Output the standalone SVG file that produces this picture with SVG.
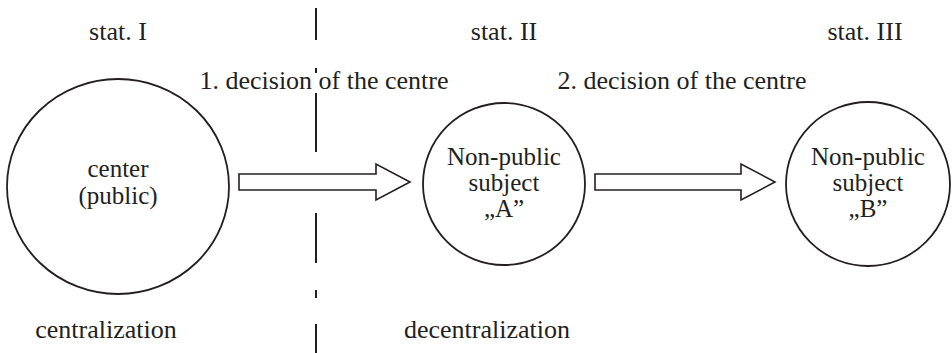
<svg xmlns="http://www.w3.org/2000/svg" width="952" height="353" viewBox="0 0 952 353">
  <style>
    .lbl { font-family: "Liberation Serif", "DejaVu Serif", serif; font-size: 26px; fill: #231f20; }
    .inner { font-size: 25px; }
    .mid { text-anchor: middle; }
    .node { fill: #fff; stroke: #231f20; stroke-width: 1.8; }
    .arrow { fill: #fff; stroke: #231f20; stroke-width: 1.6; stroke-linejoin: miter; }
    .divider { stroke: #231f20; stroke-width: 2; }
  </style>

  <!-- stage headers -->
  <text class="lbl mid" x="118" y="40">stat. I</text>
  <text class="lbl mid" x="504" y="40">stat. II</text>
  <text class="lbl mid" x="865" y="40">stat. III</text>

  <!-- decision labels, centred over their arrows -->
  <text class="lbl mid" x="324" y="89">1. decision of the centre</text>
  <text class="lbl mid" x="682" y="89">2. decision of the centre</text>

  <!-- dash-dot divider between centralization and decentralization -->
  <g id="divider" class="divider">
    <line x1="316" y1="8" x2="316" y2="40"/>
    <line x1="316" y1="68" x2="316" y2="73"/>
    <line x1="316" y1="93" x2="316" y2="152"/>
    <line x1="316" y1="213" x2="316" y2="263"/>
    <line x1="316" y1="290" x2="316" y2="298"/>
    <line x1="316" y1="324" x2="316" y2="353"/>
  </g>

  <!-- connectors: hollow block arrows -->
  <g id="connectors">
    <polygon class="arrow" points="239,174 376,174 376,164 410,182 376,200 376,190 239,190"/>
    <polygon class="arrow" points="595,174 741,174 741,164 775,182 741,200 741,190 595,190"/>
  </g>

  <g id="center">
    <ellipse class="node" cx="118" cy="186.5" rx="111" ry="107.5"/>
    <text class="lbl inner mid" x="118" y="177">center</text>
    <text class="lbl inner mid" x="118" y="204">(public)</text>
  </g>

  <g id="subject-a">
    <circle class="node" cx="504" cy="184" r="81"/>
    <text class="lbl inner mid" x="504" y="165">Non-public</text>
    <text class="lbl inner mid" x="504" y="191">subject</text>
    <text class="lbl inner mid" x="504" y="217">„A”</text>
  </g>

  <g id="subject-b">
    <circle class="node" cx="868" cy="184" r="82"/>
    <text class="lbl inner mid" x="868" y="165">Non-public</text>
    <text class="lbl inner mid" x="868" y="191">subject</text>
    <text class="lbl inner mid" x="868" y="217">„B”</text>
  </g>

  <!-- phase captions -->
  <text class="lbl mid" x="106" y="338">centralization</text>
  <text class="lbl mid" x="487" y="338">decentralization</text>
</svg>
